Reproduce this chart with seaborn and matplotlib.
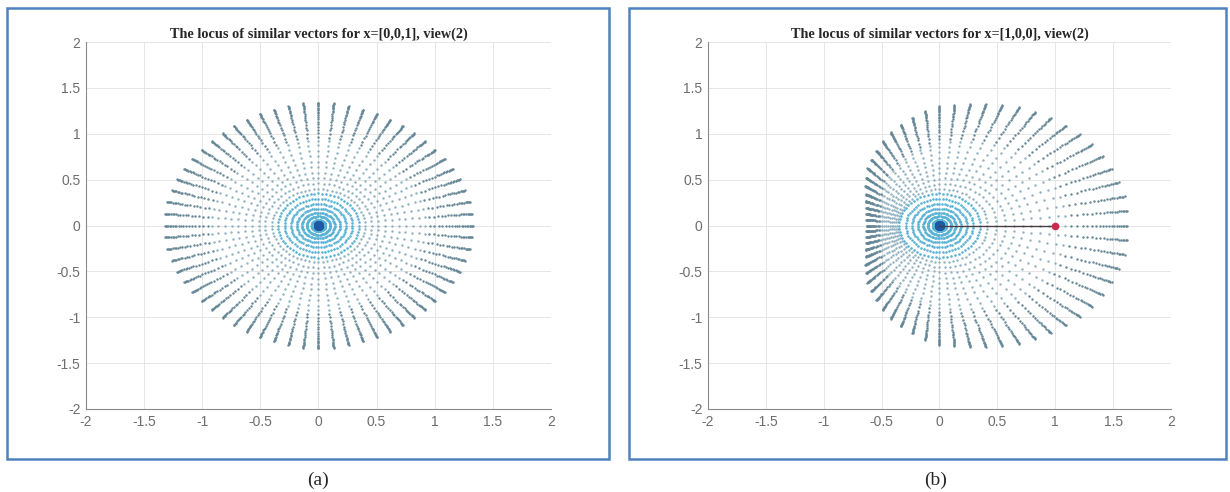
import numpy as np
import pandas as pd
import matplotlib.pyplot as plt
import seaborn as sns
from matplotlib.patches import Rectangle

# ray directions (deg) for the upper half, lower half is mirrored
ray_angles = [0, 5.625, 11.25, 16.875, 22.5, 28.125, 33.75, 39.375, 45,
              50.625, 56.25, 61.875, 67.5, 73.125, 78.75, 84.375, 90,
              95.625, 101.25, 106.875, 112.5, 118.125, 123.75, 129.375, 135,
              140.625, 146.25, 151.875, 157.5, 163.125, 168.75, 174.375, 180]

# length of each ray
len_a = [1.33, 1.33, 1.33, 1.32, 1.32, 1.31, 1.31, 1.30, 1.30, 1.30, 1.31,
         1.31, 1.32, 1.32, 1.33, 1.34, 1.34, 1.34, 1.33, 1.32, 1.32, 1.31,
         1.31, 1.30, 1.30, 1.30, 1.31, 1.31, 1.32, 1.32, 1.33, 1.33, 1.32]
len_b = [1.62, 1.63, 1.63, 1.62, 1.61, 1.60, 1.59, 1.57, 1.54, 1.52, 1.49,
         1.46, 1.42, 1.38, 1.35, 1.32, 1.30, 1.25, 1.20, 1.15, 1.10, 1.04,
         0.98, 0.93, 0.88, 0.82, 0.77, 0.72, 0.69, 0.66, 0.645, 0.635, 0.63]

# rings round the centre (absolute radius)
core_radii = [0.0, 0.025]
ring_radii = [0.06, 0.10, 0.14, 0.185, 0.235, 0.29, 0.35]
# dots further out, as fraction of the rest of the ray past the last ring
mid_fractions = [0.05, 0.11, 0.17, 0.23, 0.29, 0.35, 0.41, 0.47, 0.53, 0.58]
outer_fractions = [0.62, 0.66, 0.70, 0.73, 0.76, 0.79, 0.815, 0.84, 0.86,
                   0.88, 0.90, 0.915, 0.93, 0.945, 0.96, 0.97, 0.98, 0.99, 1.0]

x_vec_a = [0, 0, 1]
x_vec_b = [1, 0, 0]

tick_vals = [-2, -1.5, -1, -0.5, 0, 0.5, 1, 1.5, 2]
tick_labels = ['-2', '-1.5', '-1', '-0.5', '0', '0.5', '1', '1.5', '2']

group_order = ['mid', 'outer', 'ring', 'core']
group_colors = {'core': '#1d5aa3', 'ring': '#58b2d4',
                'mid': '#8fb0c0', 'outer': '#648696'}
group_sizes = {'core': 10, 'ring': 3.5, 'mid': 3, 'outer': 3}


def locus_frame(lengths):
    angles = ray_angles + [-a for a in ray_angles[1:-1]]
    lens = lengths + lengths[1:-1]
    r0 = ring_radii[-1]
    rows = []
    for a, L in zip(angles, lens):
        c, s = np.cos(np.deg2rad(a)), np.sin(np.deg2rad(a))
        pts = [(r, 'core') for r in core_radii]
        pts += [(r, 'ring') for r in ring_radii]
        pts += [(r0 + f * (L - r0), 'mid') for f in mid_fractions]
        pts += [(r0 + f * (L - r0), 'outer') for f in outer_fractions]
        for r, g in pts:
            rows.append((r * c, r * s, g))
    df = pd.DataFrame(rows, columns=['x', 'y', 'ring'])
    df['ring'] = pd.Categorical(df['ring'], group_order, ordered=True)
    return df.sort_values('ring')


sns.set_style('white')
plt.rcParams['font.family'] = ['Liberation Sans', 'DejaVu Sans']

fig = plt.figure(figsize=(12.3, 4.92), dpi=100)

panels = [
    ([0.0699, 0.1687, 0.3780, 0.7459], len_a, x_vec_a,
     'The locus of similar vectors for x=[0,0,1], view(2)', '(a)', 318),
    ([0.5756, 0.1687, 0.3764, 0.7459], len_b, x_vec_b,
     'The locus of similar vectors for x=[1,0,0], view(2)', '(b)', 936),
]

for rect, lens, xv, title, cap, cap_x in panels:
    ax = fig.add_axes(rect)
    df = locus_frame(lens)
    # the vector x itself, seen from the top
    if xv[0] != 0 or xv[1] != 0:
        ax.plot([0, xv[0]], [0, xv[1]], color='#4a3a42', lw=1, zorder=4)
    ax.scatter([xv[0]], [xv[1]], color='#d0284c', s=20, zorder=5 if xv[0] else 2)
    for g in group_order:
        sub = df[df['ring'] == g]
        sns.scatterplot(data=sub, x='x', y='y', color=group_colors[g],
                        s=group_sizes[g], linewidth=0, ax=ax, legend=False,
                        zorder=3)

    ax.set_xlim(-2, 2)
    ax.set_ylim(-2, 2)
    ax.set_xticks(tick_vals)
    ax.set_xticklabels(tick_labels)
    ax.set_yticks(tick_vals)
    ax.set_yticklabels(tick_labels)
    ax.set_xlabel('')
    ax.set_ylabel('')
    ax.grid(True, color='#e6e6e6', lw=0.7)
    ax.set_axisbelow(True)
    for side in ['top', 'right']:
        ax.spines[side].set_visible(False)
    for side in ['left', 'bottom']:
        ax.spines[side].set_color('#8a8a8a')
        ax.spines[side].set_linewidth(0.8)
    ax.tick_params(direction='in', length=3, width=0.7, color='#8a8a8a',
                   labelcolor='#6e6e6e', labelsize=10, pad=4)
    ax.set_title(title, family='Liberation Serif', weight='bold',
                 fontsize=10.3, pad=3)

    fig.text(cap_x / 1230, 1 - 480 / 492, cap, ha='center', va='center',
             family='Liberation Serif', fontsize=14)

# blue frames around the two panels
for x0, w in [(7, 602), (629, 597)]:
    fig.add_artist(Rectangle((x0 / 1230, 1 - 459 / 492), w / 1230, 451 / 492,
                             transform=fig.transFigure, fill=False,
                             edgecolor='#4f81bd', lw=1.8))

fig.savefig('out.png', dpi=100)
